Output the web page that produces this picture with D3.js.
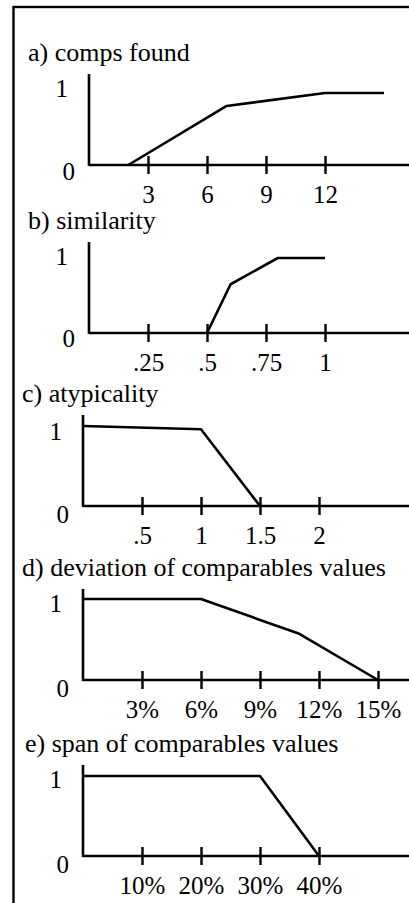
<!DOCTYPE html>
<meta charset="utf-8">
<style>
    body { margin: 0; background: #fff; }
</style>
<svg width="409" height="903"></svg>
<script src="https://d3js.org/d3.v7.min.js"></script>
<script>
    // panel titles
    var titles = [
        "a) comps found",
        "b) similarity",
        "c) atypicality",
        "d) deviation of comparables values",
        "e) span of comparables values"
    ];

    // x tick values and labels per panel
    var ticksA = [3, 6, 9, 12];
    var ticksB = [0.25, 0.5, 0.75, 1];
    var ticksC = [0.5, 1, 1.5, 2];
    var ticksD = [3, 6, 9, 12, 15];
    var ticksE = [10, 20, 30, 40];

    var labelsA = ["3", "6", "9", "12"];
    var labelsB = [".25", ".5", ".75", "1"];
    var labelsC = [".5", "1", "1.5", "2"];
    var labelsD = ["3%", "6%", "9%", "12%", "15%"];
    var labelsE = ["10%", "20%", "30%", "40%"];

    // x domain max per panel
    var xMax = [15, 1.25, 2.5, 15, 50];

    // membership curves: [x, y]
    var curveA = [[2, 0], [7, 0.82], [12, 1], [15, 1]];
    var curveB = [[0.5, 0], [0.6, 0.65], [0.8, 1], [1, 1]];
    var curveC = [[0, 1], [1, 0.96], [1.5, 0]];
    var curveD = [[0, 1], [6, 1], [11, 0.57], [15, 0]];
    var curveE = [[0, 1], [30, 1], [40, 0]];

    var yLabels = ["0", "1"];

    var panels = [
        {title: titles[0], ticks: ticksA, labels: labelsA, curve: curveA, max: xMax[0]},
        {title: titles[1], ticks: ticksB, labels: labelsB, curve: curveB, max: xMax[1]},
        {title: titles[2], ticks: ticksC, labels: labelsC, curve: curveC, max: xMax[2]},
        {title: titles[3], ticks: ticksD, labels: labelsD, curve: curveD, max: xMax[3]},
        {title: titles[4], ticks: ticksE, labels: labelsE, curve: curveE, max: xMax[4]}
    ];

    // layout (pixels)
    var axisY = [165, 333, 506, 680, 856],
        axisX = [89, 89, 83, 83, 83],
        titleX = [28, 28, 22, 22, 25],
        plotH = [72, 75, 80, 81, 80],
        oneDy = [4, 7, 14, 13, 12],
        zeroDy = [15, 14, 17, 17, 17],
        tickStep = 59,
        serif = "'Liberation Serif', 'Times New Roman', Times, serif";

    var svg = d3.select("svg");

    // outer frame, runs off the right and bottom edges
    svg.append("rect")
        .attr("x", 13.5)
        .attr("y", 7)
        .attr("width", 420)
        .attr("height", 920)
        .attr("fill", "none")
        .attr("stroke", "#000")
        .attr("stroke-width", 2.4);

    function addText(g, x, y, txt, size, anchor) {
        return g.append("text")
            .attr("x", x)
            .attr("y", y)
            .attr("text-anchor", anchor || "start")
            .style("font-family", serif)
            .style("font-size", size + "px")
            .attr("fill", "#000")
            .text(txt);
    }

    panels.forEach(function (p, i) {
        var g = svg.append("g");
        var x0 = axisX[i], y0 = axisY[i];
        var nSteps = p.max / p.ticks[0];

        var x = d3.scaleLinear()
            .domain([0, p.max])
            .range([x0, x0 + nSteps * tickStep]);

        var y = d3.scaleLinear()
            .domain([0, 1])
            .range([y0, y0 - plotH[i]]);

        // title
        addText(g, titleX[i], y0 - 104, p.title, 26);

        // x axis ticks + labels
        var axis = g.append("g")
            .attr("transform", "translate(0," + (y0 - 9) + ")")
            .call(d3.axisBottom(x)
                .tickValues(p.ticks)
                .tickSize(18)
                .tickFormat(function (d, k) { return p.labels[k]; }));
        axis.attr("font-family", null).attr("font-size", null);
        axis.select(".domain").remove();
        axis.selectAll(".tick line")
            .attr("stroke", "#000")
            .attr("stroke-width", 2.4);
        axis.selectAll(".tick text")
            .attr("y", 47)
            .attr("dy", 0)
            .attr("fill", "#000")
            .style("font-family", serif)
            .style("font-size", "25px");

        // axes lines
        g.append("line")
            .attr("x1", x0).attr("x2", 409)
            .attr("y1", y0).attr("y2", y0)
            .attr("stroke", "#000").attr("stroke-width", 2.6);
        g.append("line")
            .attr("x1", x0).attr("x2", x0)
            .attr("y1", y0 + 1).attr("y2", y0 - 91)
            .attr("stroke", "#000").attr("stroke-width", 2.6);

        // y labels
        addText(g, x0 - 14, y(0) + zeroDy[i], yLabels[0], 25, "end");
        addText(g, x0 - 21, y(1) + oneDy[i], yLabels[1], 25, "end");

        // curve
        var line = d3.line()
            .x(function (d) { return x(d[0]); })
            .y(function (d) { return y(d[1]); });

        g.append("path")
            .datum(p.curve)
            .attr("fill", "none")
            .attr("stroke", "#000")
            .attr("stroke-width", 2.6)
            .attr("stroke-linejoin", "round")
            .attr("d", line);
    });
</script>
